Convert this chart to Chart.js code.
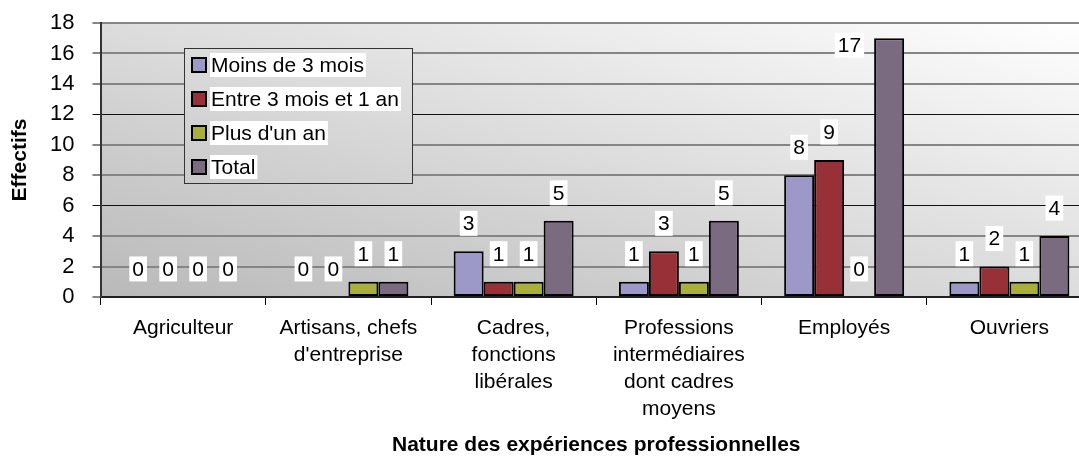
<!DOCTYPE html>
<html>
<head>
<meta charset="utf-8">
<script src="https://cdn.jsdelivr.net/npm/chart.js@4"></script>
<style>
  html, body { margin: 0; padding: 0; background: #fff; overflow: hidden; }
  #wrap { width: 1100px; height: 456px; }
</style>
</head>
<body>
<div id="wrap"><canvas id="chart" width="1100" height="456"></canvas></div>
<script>
// Categories (multi-line labels as in the original)
const categories = [
    'Agriculteur',
    ['Artisans, chefs', "d'entreprise"],
    ['Cadres,', 'fonctions', 'libérales'],
    ['Professions', 'intermédiaires', 'dont cadres', 'moyens'],
    'Employés',
    'Ouvriers'
];
const seriesNames = ['Moins de 3 mois', 'Entre 3 mois et 1 an', "Plus d'un an", 'Total'];
const moinsDe3Mois = [0, 0, 3, 1, 8, 1];
const entre3MoisEt1An = [0, 0, 1, 3, 9, 2];
const plusDunAn = [0, 1, 1, 1, 0, 1];
const total = [0, 1, 5, 5, 17, 4];
const yTicks = [0, 2, 4, 6, 8, 10, 12, 14, 16, 18];

const FONT = '"Liberation Sans", Arial, sans-serif';

// Gray diagonal gradient behind the plot area
const plotBackground = {
    id: 'plotBackground',
    beforeDraw(chart) {
        const { ctx, chartArea: a } = chart;
        const w = a.right - a.left, h = a.bottom - a.top;
        const k = 2 * w * h / (w * w + h * h);
        const g = ctx.createLinearGradient(a.left, a.bottom, a.left + k * h, a.bottom - k * w);
        g.addColorStop(0, '#b9b9b9');
        g.addColorStop(1, '#ffffff');
        chart.$plotGradient = g;
        ctx.save();
        ctx.fillStyle = g;
        ctx.fillRect(a.left, a.top, w, h);
        ctx.restore();
    }
};

// Value labels on white boxes above the bars
const valueLabels = {
    id: 'valueLabels',
    afterDatasetsDraw(chart) {
        const ctx = chart.ctx;
        const top = chart.chartArea.top;
        ctx.save();
        ctx.font = '21px ' + FONT;
        ctx.textAlign = 'center';
        ctx.textBaseline = 'middle';
        chart.data.datasets.forEach((ds, i) => {
            chart.getDatasetMeta(i).data.forEach((bar, j) => {
                const text = String(ds.data[j]);
                const bw = ctx.measureText(text).width + 6;
                const bh = 25;
                let cx = bar.x;
                let cy = bar.y - 28;
                if (cy - bh / 2 < top) {
                    cx = bar.x - bar.width / 2 - 10 - bw / 2;
                    cy = bar.y + 7;
                }
                ctx.fillStyle = '#fff';
                ctx.fillRect(cx - bw / 2, cy - bh / 2, bw, bh);
                ctx.fillStyle = '#000';
                ctx.fillText(text, cx, cy + 1);
            });
        });
        ctx.restore();
    }
};

// Legend box placed inside the plot area
const boxLegend = {
    id: 'boxLegend',
    afterDraw(chart) {
        const ctx = chart.ctx;
        const x = 184, y = 48, w = 228, h = 135;
        ctx.save();
        ctx.fillStyle = chart.$plotGradient || '#ddd';
        ctx.fillRect(x, y, w, h);
        ctx.strokeStyle = '#333';
        ctx.lineWidth = 1;
        ctx.strokeRect(x + 0.5, y + 0.5, w, h);
        ctx.font = '21px ' + FONT;
        ctx.textBaseline = 'middle';
        chart.data.datasets.forEach((ds, i) => {
            const cy = y + 17 + i * 34;
            ctx.fillStyle = ds.backgroundColor;
            ctx.fillRect(x + 8, cy - 7, 14, 14);
            ctx.strokeStyle = '#000';
            ctx.lineWidth = 2;
            ctx.strokeRect(x + 8, cy - 7, 14, 14);
            const tw = ctx.measureText(ds.label).width;
            ctx.fillStyle = '#fff';
            ctx.fillRect(x + 26, cy - 12, tw + 3, 24);
            ctx.fillStyle = '#000';
            ctx.fillText(ds.label, x + 27, cy + 1);
        });
        ctx.restore();
    }
};

const colors = ['#9c98c8', '#983137', '#a8af3a', '#7b6b81'];
const seriesData = [moinsDe3Mois, entre3MoisEt1An, plusDunAn, total];

new Chart(document.getElementById('chart').getContext('2d'), {
    type: 'bar',
    data: {
        labels: categories,
        datasets: seriesData.map((values, i) => ({
            label: seriesNames[i],
            data: values,
            backgroundColor: colors[i],
            borderColor: '#000',
            borderWidth: 2,
            borderSkipped: false,
            barPercentage: 1,
            categoryPercentage: 0.726
        }))
    },
    options: {
        responsive: false,
        animation: false,
        layout: { padding: { top: 23, right: 8, left: 0, bottom: 0 } },
        plugins: {
            legend: { display: false },
            tooltip: { enabled: false }
        },
        scales: {
            x: {
                grid: {
                    display: true,
                    drawOnChartArea: false,
                    drawTicks: true,
                    tickLength: 8,
                    color: '#000',
                    offset: true
                },
                border: { display: true, color: '#222', width: 2 },
                ticks: {
                    color: '#000',
                    font: { family: FONT, size: 21, lineHeight: 1.2857 },
                    padding: 9.5,
                    maxRotation: 0,
                    autoSkip: false
                },
                title: {
                    display: true,
                    text: 'Nature des expériences professionnelles',
                    color: '#000',
                    font: { family: FONT, size: 21, weight: 'bold', lineHeight: 1.05 },
                    padding: { top: 2, bottom: 0 }
                }
            },
            y: {
                min: 0,
                max: 18,
                afterBuildTicks: scale => { scale.ticks = yTicks.map(v => ({ value: v })); },
                afterFit: scale => { scale.paddingTop = 0; },
                grid: {
                    color: c => (c.tick && (c.tick.value === 6 || c.tick.value === 12)) ? '#111' : '#858585',
                    lineWidth: c => (c.tick && (c.tick.value === 6 || c.tick.value === 12)) ? 1 : 2,
                    tickLength: 8
                },
                border: { display: true, color: '#333', width: 2 },
                ticks: {
                    color: '#000',
                    font: { family: FONT, size: 22 },
                    padding: 18,
                    autoSkip: false
                },
                title: {
                    display: true,
                    text: 'Effectifs',
                    color: '#000',
                    font: { family: FONT, size: 21, weight: 'bold', lineHeight: 1.05 },
                    padding: { top: 9, bottom: 1 }
                }
            }
        }
    },
    plugins: [plotBackground, valueLabels, boxLegend]
});
</script>
</body>
</html>
